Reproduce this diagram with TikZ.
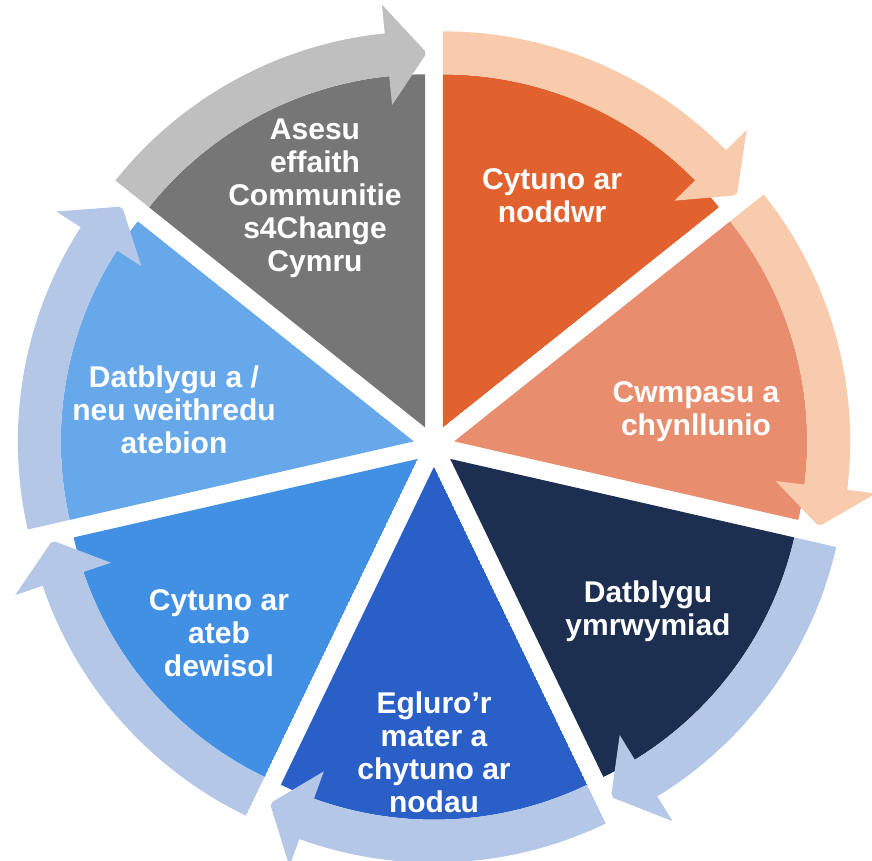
\documentclass[tikz,border=0pt]{standalone}
\usepackage{fontspec}
\setmainfont{Liberation Sans}
\usetikzlibrary{positioning}

\definecolor{rust}{HTML}{E2622F}
\definecolor{salmon}{HTML}{E88D6E}
\definecolor{peach}{HTML}{F8CBAD}
\definecolor{navy}{HTML}{1C2F50}
\definecolor{royal}{HTML}{2A5FC7}
\definecolor{midblue}{HTML}{4190E3}
\definecolor{skyblue}{HTML}{67A8EA}
\definecolor{paleblue}{HTML}{B4C7E7}
\definecolor{darkgrey}{HTML}{767676}
\definecolor{lightgrey}{HTML}{BFBFBF}

% one part of the cycle: #1 start angle, #2 colour of the part, #3 colour of its arrow
\newcommand{\cyclepart}[3]{
\begin{scope}[shift={({#1-25.714}:20.7)}]
\clip (0,0) -- (#1:470) arc[start angle=#1,end angle=#1-51.429,radius=470] -- cycle;
\fill[#2] (0,0) -- (#1:353) arc[start angle=#1,end angle=#1-51.429,radius=353] -- cycle;
\fill[#3] (#1:353) arc[start angle=#1,end angle=#1-45.6,radius=353] -- ({#1-45.6}:324)
  -- ({#1-51.7}:374.5) -- ({#1-45.6}:425) -- ({#1-45.6}:396)
  arc[start angle=#1-45.6,end angle=#1,radius=396] -- cycle;
\end{scope}}

\begin{document}
\begin{tikzpicture}
[x=1pt,y=1pt,lbl/.style = {text=white, align=center, inner sep=0pt, font=\bfseries\fontsize{30}{33}\selectfont},]
\useasboundingbox (0,0) rectangle (872,860);
\begin{scope}[shift={(434,414)}]
\cyclepart{90}{rust}{peach}
\cyclepart{38.571}{salmon}{peach}
\cyclepart{-12.857}{navy}{paleblue}
\cyclepart{-64.286}{royal}{paleblue}
\cyclepart{-115.714}{midblue}{paleblue}
\cyclepart{-167.143}{skyblue}{paleblue}
\cyclepart{-218.571}{darkgrey}{lightgrey}
\end{scope}
\node (sponsor) at (552,664)[lbl] {Cytuno ar\\noddwr};
\node (scope) at (696,448)[lbl] {Cwmpasu a\\chynllunio};
\node (commit) at (648,249)[lbl] {Datblygu\\ymrwymiad};
\node (issue) at (434,108)[lbl] {Egluro’r\\mater a\\chytuno ar\\nodau};
\node (choice) at (219,227)[lbl] {Cytuno ar\\ateb\\dewisol};
\node (deliver) at (174,450)[lbl] {Datblygu a /\\neu weithredu\\atebion};
\node (impact) at (315,662)[lbl] {Asesu\\effaith\\Communitie\\s4Change\\Cymru};
\end{tikzpicture}
\end{document}
